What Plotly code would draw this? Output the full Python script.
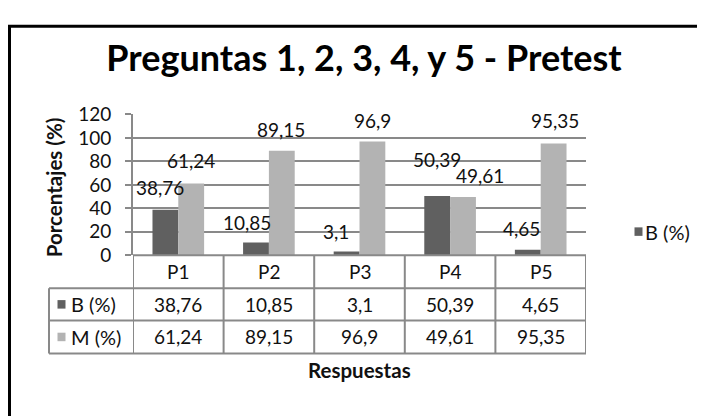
import plotly.graph_objects as go

# ---------------- data ----------------
categories = ["P1", "P2", "P3", "P4", "P5"]
b_values = [38.76, 10.85, 3.1, 50.39, 4.65]
m_values = [61.24, 89.15, 96.9, 49.61, 95.35]
series_names = ["B (%)", "M (%)"]
y_ticks = [0, 20, 40, 60, 80, 100, 120]
title_text = "Preguntas 1, 2, 3, 4, y 5 - Pretest"
y_title = "Porcentajes (%)"
x_title = "Respuestas"

# ---------------- style ----------------
W, H = 705, 416
PAGE_OFF = 8  # browser default body margin, compensated so positions match the window


def X(px):
    return (px - PAGE_OFF) / W


def Y(py):
    return 1 - (py - PAGE_OFF) / H


DARK = "#606060"
LIGHT = "#b3b3b3"
GRID = "#898989"
TXT = "#111111"
FONT = "Lato, 'Open Sans', sans-serif"
FS = 19

PLOT_L, PLOT_R, PLOT_T, PLOT_B = 133, 586, 108, 257
TABLE_L = 49
ROW_LINES = [292, 326, 361]
ROW_CENTERS = [274.5, 309, 343.5]
BARGAP = 0.43
cat_px = (PLOT_R - PLOT_L) / len(categories)
half_bar_px = (1 - BARGAP) / 4 * cat_px

# label offsets in px (dx, dy up) relative to bar-top centre
b_label_off = [(-5, 22), (-9, 20), (-11, 20), (0, 37), (-6, 21)]
m_label_off = [(0, 23), (-1, 21), (0, 21), (17, 22), (1, 23)]


def fmt(v):
    return f"{v:g}".replace(".", ",")


fig = go.Figure()
fig.add_trace(go.Bar(x=categories, y=b_values, name=series_names[0],
                     marker=dict(color=DARK, line=dict(width=0)), showlegend=False))
fig.add_trace(go.Bar(x=categories, y=m_values, name=series_names[1],
                     marker=dict(color=LIGHT, line=dict(width=0)), showlegend=False))

ann = []
# data labels
for i, c in enumerate(categories):
    for vals, offs, sign in ((b_values, b_label_off, -1), (m_values, m_label_off, 1)):
        dx, dy = offs[i]
        ann.append(dict(x=c, y=vals[i], xref="x", yref="y", text=fmt(vals[i]),
                        showarrow=False, xanchor="center", yanchor="middle",
                        xshift=sign * half_bar_px + dx, yshift=dy,
                        font=dict(family=FONT, size=FS, color=TXT)))

# table cells
for i, c in enumerate(categories):
    for row, txt in enumerate((c, fmt(b_values[i]), fmt(m_values[i]))):
        ann.append(dict(x=c, y=Y(ROW_CENTERS[row]), xref="x", yref="paper", text=txt,
                        showarrow=False, xanchor="center", yanchor="middle",
                        font=dict(family=FONT, size=FS, color=TXT)))

# table row legend labels
for k, name in enumerate(series_names):
    ann.append(dict(x=X(69), y=Y(ROW_CENTERS[k + 1]), xref="paper", yref="paper",
                    text=name, showarrow=False, xanchor="left", yanchor="middle",
                    font=dict(family=FONT, size=20, color=TXT)))

# right-hand legend label
ann.append(dict(x=X(643), y=Y(232), xref="paper", yref="paper", text=series_names[0],
                showarrow=False, xanchor="left", yanchor="middle",
                font=dict(family=FONT, size=20, color=TXT)))

# axis titles
ann.append(dict(x=X(54), y=Y(185), xref="paper", yref="paper", text=y_title,
                textangle=-90, showarrow=False, xanchor="center", yanchor="middle",
                font=dict(family=FONT, size=20.5, color=TXT, weight="bold")))
ann.append(dict(x=X(359), y=Y(378), xref="paper", yref="paper", text=x_title,
                showarrow=False, xanchor="center", yanchor="middle",
                font=dict(family=FONT, size=20.5, color=TXT, weight="bold")))

shapes = []
# outer frame (runs off the right and bottom edge)
shapes.append(dict(type="rect", xref="paper", yref="paper", x0=X(9.5), x1=X(760),
                   y0=Y(14.5), y1=Y(470), line=dict(color="black", width=3)))
# table horizontal lines
shapes.append(dict(type="line", xref="paper", yref="paper", x0=X(PLOT_L), x1=X(PLOT_R),
                   y0=Y(PLOT_B), y1=Y(PLOT_B), line=dict(color=GRID, width=2)))
for ry in ROW_LINES:
    shapes.append(dict(type="line", xref="paper", yref="paper", x0=X(TABLE_L), x1=X(PLOT_R),
                       y0=Y(ry), y1=Y(ry), line=dict(color=GRID, width=2)))
# table vertical lines
shapes.append(dict(type="line", xref="paper", yref="paper", x0=X(TABLE_L), x1=X(TABLE_L),
                   y0=Y(ROW_LINES[0]), y1=Y(ROW_LINES[-1]), line=dict(color=GRID, width=2)))
for i in range(len(categories) + 1):
    shapes.append(dict(type="line", xref="x", yref="paper", x0=i - 0.5, x1=i - 0.5,
                       y0=Y(PLOT_B), y1=Y(ROW_LINES[-1]), line=dict(color=GRID, width=2)))
# legend key squares
for k, col in enumerate((DARK, LIGHT)):
    cy = ROW_CENTERS[k + 1]
    shapes.append(dict(type="rect", xref="paper", yref="paper", x0=X(57.5), x1=X(65.5),
                       y0=Y(cy - 4.5), y1=Y(cy + 4.5), fillcolor=col, line=dict(width=0)))
shapes.append(dict(type="rect", xref="paper", yref="paper", x0=X(634.5), x1=X(642.5),
                   y0=Y(227.5), y1=Y(236.5), fillcolor=DARK, line=dict(width=0)))

fig.update_layout(
    width=W, height=H,
    margin=dict(l=0, r=0, t=0, b=0),
    paper_bgcolor="white", plot_bgcolor="white",
    barmode="group", bargap=BARGAP, bargroupgap=0,
    title=dict(text=title_text, x=X(364), xanchor="center", y=Y(58), yanchor="middle",
               xref="paper", yref="container",
               font=dict(family=FONT, size=36, color="black", weight="bold")),
    xaxis=dict(domain=[X(PLOT_L), X(PLOT_R)], range=[-0.5, len(categories) - 0.5],
               showticklabels=False, showgrid=False, showline=False, zeroline=False,
               ticks="", fixedrange=True),
    yaxis=dict(domain=[Y(PLOT_B), Y(PLOT_T)], range=[0, 120], tickvals=y_ticks,
               showgrid=True, gridcolor=GRID, gridwidth=2, zeroline=False,
               showline=True, linecolor=GRID, linewidth=2,
               ticks="outside", ticklen=6, tickwidth=2, tickcolor=GRID,
               ticklabelstandoff=10,
               tickfont=dict(family=FONT, size=FS, color=TXT)),
    annotations=ann, shapes=shapes, showlegend=False,
)

fig.write_html("out.html")
